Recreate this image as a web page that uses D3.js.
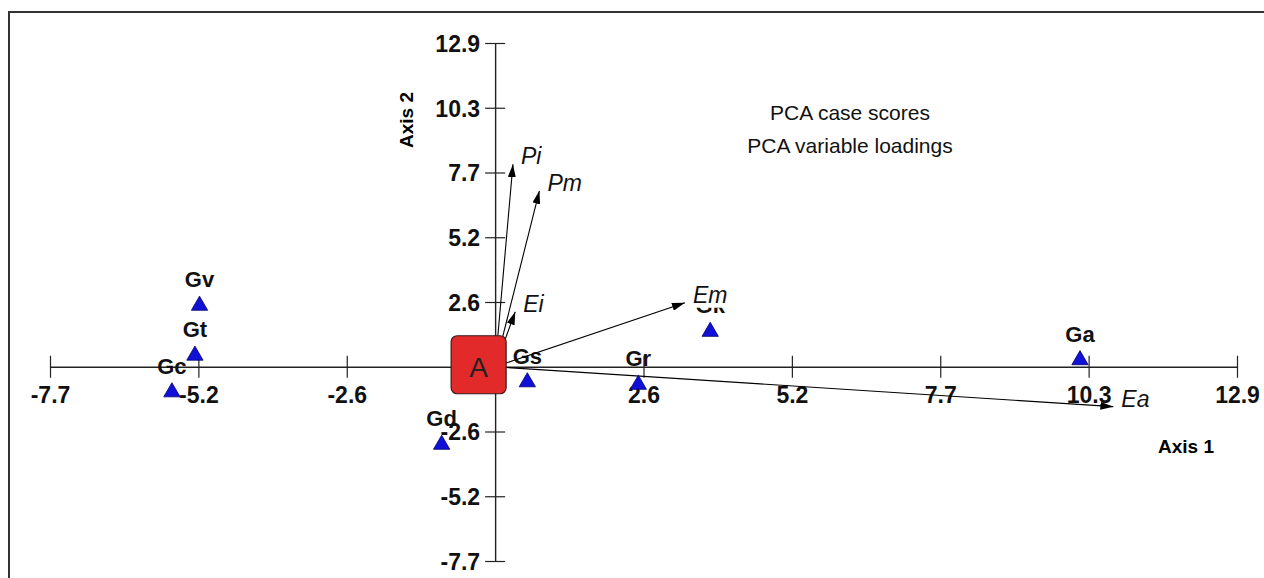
<!DOCTYPE html>
<html>
<head>
<meta charset="utf-8">
<script src="https://cdn.jsdelivr.net/npm/d3@7"></script>
<style>
  body { margin: 0; background: #fff; }
  text { font-family: Arial, "Liberation Sans", sans-serif; }
</style>
</head>
<body>
<div class="chart"></div>
<script>
// case scores
const caseNames = ["Gv", "Gt", "Gc", "Gd", "Gs", "Gr", "Gk", "Ga"];
const caseAxis1 = [-5.14, -5.22, -5.62, -0.93, 0.56, 2.49, 3.74, 10.17];
const caseAxis2 = [2.53, 0.54, -0.92, -3.01, -0.52, -0.62, 1.49, 0.36];

// variable loadings (arrows)
const varNames = ["Pi", "Pm", "Ei", "Em", "Ea"];
const varAxis1 = [0.31, 0.77, 0.35, 3.30, 10.75];
const varAxis2 = [8.07, 7.01, 2.19, 2.55, -1.59];

const tickVals = [-7.74, -5.16, -2.58, 2.58, 5.16, 7.74, 10.32, 12.9];
const legendLines = ["PCA case scores", "PCA variable loadings"];

const W = 1264, H = 578;
const svg = d3.select(".chart").append("svg")
  .attr("width", W).attr("height", H);

// frame
svg.append("path")
  .attr("d", `M9,${H} V12 H${W}`)
  .attr("fill", "none").attr("stroke", "#333").attr("stroke-width", 2);

const x = d3.scaleLinear().domain([-7.74, 12.9]).range([50, 1237]);
const y = d3.scaleLinear().domain([-7.74, 12.9]).range([561, 43]);
const x0 = x(0), y0 = y(0);
const fmt = d => d3.format(".1f")(d).replace("\u2212", "-");

svg.append("defs").append("marker")
  .attr("id", "head")
  .attr("viewBox", "0 0 13 8")
  .attr("refX", 13).attr("refY", 4)
  .attr("markerWidth", 13).attr("markerHeight", 8)
  .attr("markerUnits", "userSpaceOnUse")
  .attr("orient", "auto")
  .append("path").attr("d", "M0,0 L13,4 L0,8 Z").attr("fill", "#000");

// x axis
const gx = svg.append("g")
  .attr("transform", `translate(0,${y0})`)
  .call(d3.axisBottom(x).tickValues(tickVals).tickFormat(fmt).tickSizeOuter(0));
gx.selectAll(".tick line").attr("y1", -11).attr("y2", 11);
gx.selectAll(".tick text").attr("y", 36).attr("dy", 0);

// y axis
const gy = svg.append("g")
  .attr("transform", `translate(${x0},0)`)
  .call(d3.axisLeft(y).tickValues(tickVals).tickFormat(fmt).tickSizeOuter(0));
gy.selectAll(".tick line").attr("x1", -10).attr("x2", 10);
gy.selectAll(".tick text").attr("x", -15).attr("dy", "0.36em");

[gx, gy].forEach(g => {
  g.select(".domain").attr("stroke", "#222").attr("stroke-width", 1.4);
  g.selectAll(".tick line").attr("stroke", "#222").attr("stroke-width", 1.2);
  g.selectAll(".tick text")
    .attr("fill", "#111")
    .style("font-size", "23px").style("font-weight", "bold")
    .style("font-family", "Arial, 'Liberation Sans', sans-serif");
});

// axis titles
svg.append("text")
  .attr("transform", "translate(413,120) rotate(-90)")
  .attr("text-anchor", "middle")
  .style("font-size", "19px").style("font-weight", "bold")
  .text("Axis 2");
svg.append("text")
  .attr("x", 1186).attr("y", 453)
  .attr("text-anchor", "middle")
  .style("font-size", "19px").style("font-weight", "bold")
  .text("Axis 1");

// legend text
svg.selectAll(".leg").data(legendLines).enter().append("text")
  .attr("class", "leg")
  .attr("x", 850).attr("y", (d, i) => 120 + i * 33)
  .attr("text-anchor", "middle")
  .style("font-size", "21px").attr("fill", "#111")
  .text(d => d);

// case score triangles + labels
const cases = caseNames.map((n, i) => ({ name: n, a1: caseAxis1[i], a2: caseAxis2[i] }));
const tri = d3.symbol().type(d3.symbolTriangle).size(115);

svg.selectAll(".caselab").data(cases).enter().append("text")
  .attr("class", "caselab")
  .attr("x", d => x(d.a1))
  .attr("y", d => y(d.a2) - 16)
  .attr("text-anchor", "middle")
  .style("font-size", "22px").style("font-weight", "bold").attr("fill", "#111")
  .text(d => d.name);

// variable loading arrows
const vars = varNames.map((n, i) => ({ name: n, a1: varAxis1[i], a2: varAxis2[i] }));
svg.selectAll(".vec").data(vars).enter().append("line")
  .attr("class", "vec")
  .attr("x1", x0).attr("y1", y0)
  .attr("x2", d => x(d.a1)).attr("y2", d => y(d.a2))
  .attr("stroke", "#000").attr("stroke-width", 1.1)
  .attr("marker-end", "url(#head)");

const vlab = svg.selectAll(".veclab").data(vars).enter().append("g")
  .attr("class", "veclab")
  .attr("transform", d => `translate(${x(d.a1) + 8},${y(d.a2)})`);
vlab.append("rect")
  .attr("x", -1).attr("y", -17).attr("height", 22)
  .attr("width", d => d.name.length * 20)
  .attr("fill", d => d.name === "Em" ? "#fff" : "none");
vlab.append("text")
  .style("font-size", "23px").style("font-style", "italic").attr("fill", "#111")
  .text(d => d.name);

svg.selectAll(".case").data(cases).enter().append("path")
  .attr("class", "case")
  .attr("d", tri)
  .attr("transform", d => `translate(${x(d.a1)},${y(d.a2) + 2.3})`)
  .attr("fill", "#1010d8").attr("stroke", "#00006a").attr("stroke-width", 0.8);

// "A" marker at origin
svg.append("rect")
  .attr("x", x0 - 44).attr("y", y0 - 31)
  .attr("width", 55).attr("height", 58).attr("rx", 6)
  .attr("fill", "#e32a2a").attr("stroke", "#3a1a1a").attr("stroke-width", 1.2);
svg.append("text")
  .attr("x", x0 - 16.5).attr("y", y0 + 10)
  .attr("text-anchor", "middle")
  .style("font-size", "28px").attr("fill", "#222")
  .text("A");
</script>
</body>
</html>
